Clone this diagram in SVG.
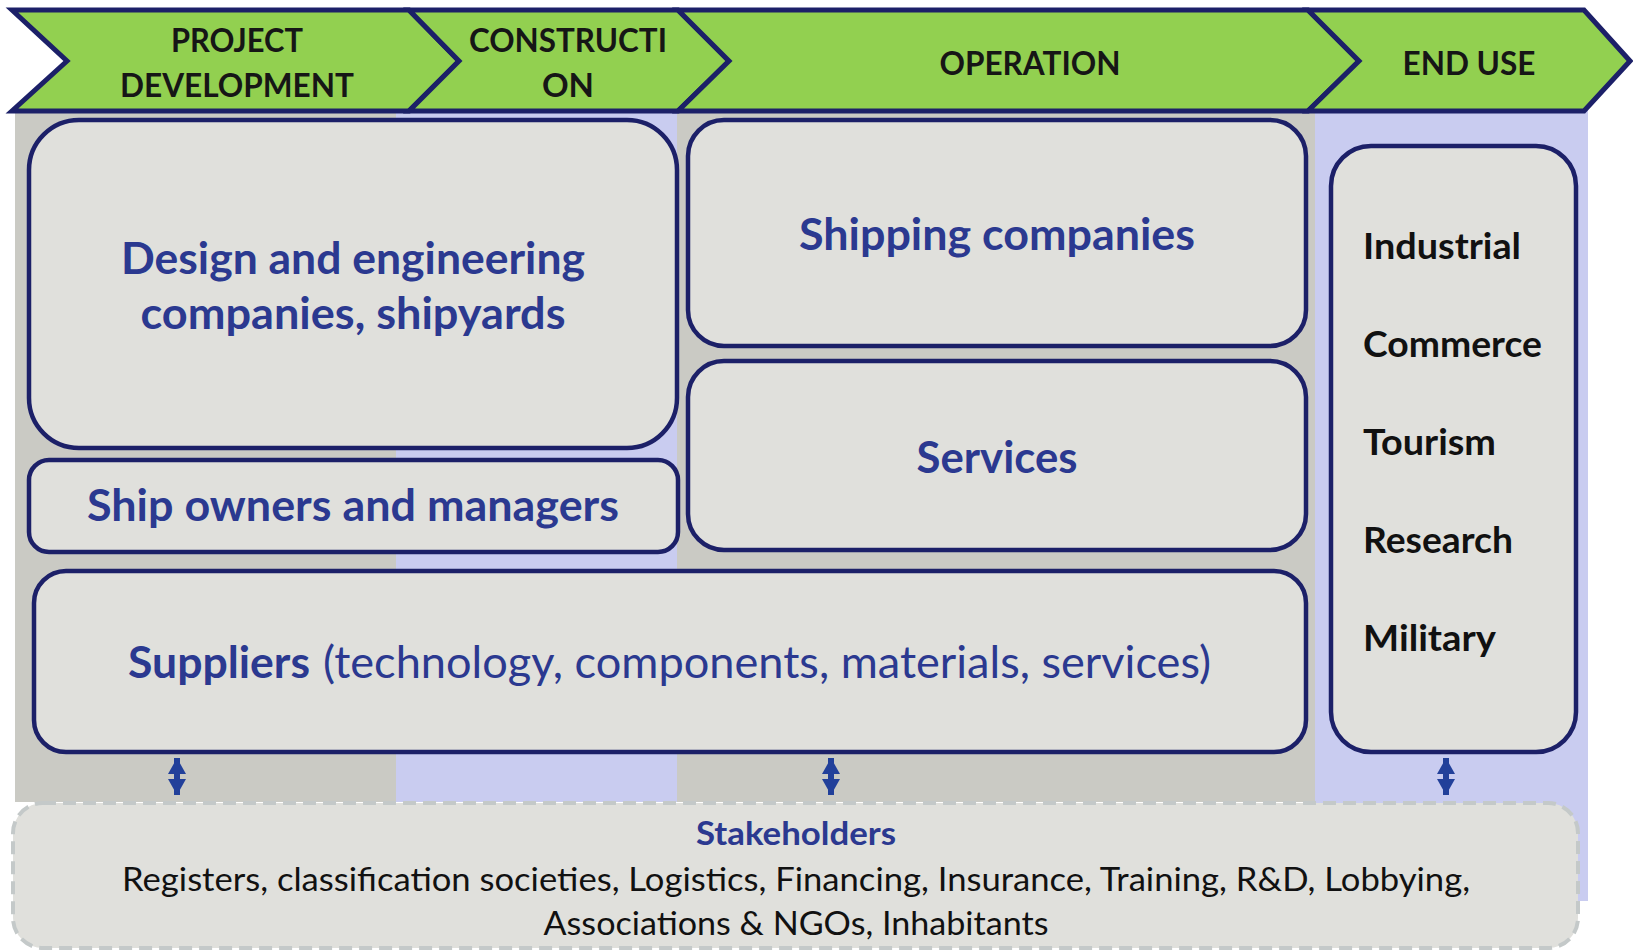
<svg xmlns="http://www.w3.org/2000/svg" width="1633" height="951" viewBox="0 0 1633 951">
<style>
.hdr{fill:#92D050;stroke:#1C2068;stroke-width:5;stroke-linejoin:miter}
.htx{font-family:Lato,"Liberation Sans",sans-serif;font-weight:700;font-size:33px;fill:#161616;text-anchor:middle}
.box{fill:#E0E0DC;stroke:#1C2068;stroke-width:4.5}
.lbl{font-family:Lato,"Liberation Sans",sans-serif;font-weight:700;font-size:44px;fill:#2B3990;text-anchor:middle}
.reg{font-family:Lato,"Liberation Sans",sans-serif;font-weight:400;font-size:44px;fill:#2B3990}
.use{font-family:Lato,"Liberation Sans",sans-serif;font-weight:700;font-size:37px;fill:#111111}
.stk{fill:#E0E0DC;stroke:#C4C9C9;stroke-width:4;stroke-dasharray:13 7}
.stt{font-family:Lato,"Liberation Sans",sans-serif;font-weight:700;font-size:33px;fill:#2B3990;text-anchor:middle}
.stl{font-family:Lato,"Liberation Sans",sans-serif;font-weight:400;font-size:33px;fill:#111111;text-anchor:middle}
.con{stroke:#22409A;stroke-width:6;fill:none}
</style>
<defs>
<marker id="ah" markerUnits="userSpaceOnUse" markerWidth="17" markerHeight="18" refX="16" refY="9" orient="auto-start-reverse">
<path d="M0,0 L16,9 L0,18 z" fill="#22409A"/>
</marker>
</defs>
<rect x="0" y="0" width="1633" height="951" fill="#FFFFFF"/>
<g id="columns">
<rect x="15" y="108" width="381" height="694" fill="#CACAC4"/>
<rect x="396" y="108" width="281" height="694" fill="#C9CCF0"/>
<rect x="677" y="108" width="638" height="694" fill="#CACAC4"/>
<rect x="1315" y="108" width="273" height="793" fill="#C9CCF0"/>
</g>
<g id="phase-project-development">
<polygon class="hdr" points="12,10 409,10 459,61 409,111 12,111 67,61"/>
<text class="htx" x="237" y="52" textLength="132" lengthAdjust="spacingAndGlyphs">PROJECT</text>
<text class="htx" x="237" y="97" textLength="234" lengthAdjust="spacingAndGlyphs">DEVELOPMENT</text>
</g>
<g id="phase-construction">
<polygon class="hdr" points="409,10 678,10 729,61 678,111 409,111 459,61"/>
<text class="htx" x="568" y="52" textLength="198" lengthAdjust="spacingAndGlyphs">CONSTRUCTI</text>
<text class="htx" x="568" y="97">ON</text>
</g>
<g id="phase-operation">
<polygon class="hdr" points="678,10 1308,10 1359,61 1308,111 678,111 729,61"/>
<text class="htx" x="1030" y="75" textLength="181" lengthAdjust="spacingAndGlyphs">OPERATION</text>
</g>
<g id="phase-end-use">
<polygon class="hdr" points="1308,10 1584,10 1630,61 1584,111 1308,111 1359,61"/>
<text class="htx" x="1469" y="75" textLength="133" lengthAdjust="spacingAndGlyphs">END USE</text>
</g>
<g id="node-design">
<rect class="box" x="29" y="120" width="648" height="328" rx="50" ry="50"/>
<text class="lbl" x="353" y="274" textLength="464" lengthAdjust="spacingAndGlyphs">Design and engineering</text>
<text class="lbl" x="353" y="329" textLength="425" lengthAdjust="spacingAndGlyphs">companies, shipyards</text>
</g>
<g id="node-ship-owners">
<rect class="box" x="29" y="460" width="649" height="92" rx="20" ry="20"/>
<text class="lbl" x="353" y="521" textLength="532" lengthAdjust="spacingAndGlyphs">Ship owners and managers</text>
</g>
<g id="node-shipping">
<rect class="box" x="688" y="120" width="618" height="226" rx="36" ry="36"/>
<text class="lbl" x="997" y="250" textLength="396" lengthAdjust="spacingAndGlyphs">Shipping companies</text>
</g>
<g id="node-services">
<rect class="box" x="688" y="361" width="618" height="189" rx="36" ry="36"/>
<text class="lbl" x="997" y="473" textLength="161" lengthAdjust="spacingAndGlyphs">Services</text>
</g>
<g id="node-suppliers">
<rect class="box" x="34" y="571" width="1272" height="181" rx="32" ry="32"/>
<text class="lbl" x="219" y="678" textLength="182" lengthAdjust="spacingAndGlyphs">Suppliers</text>
<text class="reg" x="323" y="678" textLength="888" lengthAdjust="spacingAndGlyphs">(technology, components, materials, services)</text>
</g>
<g id="node-end-use">
<rect class="box" x="1331" y="146" width="245" height="606" rx="40" ry="40"/>
<text class="use" x="1363" y="259" textLength="158" lengthAdjust="spacingAndGlyphs">Industrial</text>
<text class="use" x="1363" y="357" textLength="179" lengthAdjust="spacingAndGlyphs">Commerce</text>
<text class="use" x="1363" y="455" textLength="133" lengthAdjust="spacingAndGlyphs">Tourism</text>
<text class="use" x="1363" y="553" textLength="150" lengthAdjust="spacingAndGlyphs">Research</text>
<text class="use" x="1363" y="651" textLength="133" lengthAdjust="spacingAndGlyphs">Military</text>
</g>
<g id="node-stakeholders">
<rect class="stk" x="13" y="803" width="1565" height="145" rx="30" ry="30"/>
<text class="stt" x="796" y="845" textLength="200" lengthAdjust="spacingAndGlyphs">Stakeholders</text>
<text class="stl" x="796" y="891" textLength="1348" lengthAdjust="spacingAndGlyphs">Registers, classification societies, Logistics, Financing, Insurance, Training, R&amp;D, Lobbying,</text>
<text class="stl" x="796" y="935" textLength="505" lengthAdjust="spacingAndGlyphs">Associations &amp; NGOs, Inhabitants</text>
</g>
<g id="connectors">
<line class="con" x1="177" y1="758" x2="177" y2="795" marker-start="url(#ah)" marker-end="url(#ah)"/>
<line class="con" x1="831" y1="758" x2="831" y2="795" marker-start="url(#ah)" marker-end="url(#ah)"/>
<line class="con" x1="1446" y1="758" x2="1446" y2="795" marker-start="url(#ah)" marker-end="url(#ah)"/>
</g>
</svg>
